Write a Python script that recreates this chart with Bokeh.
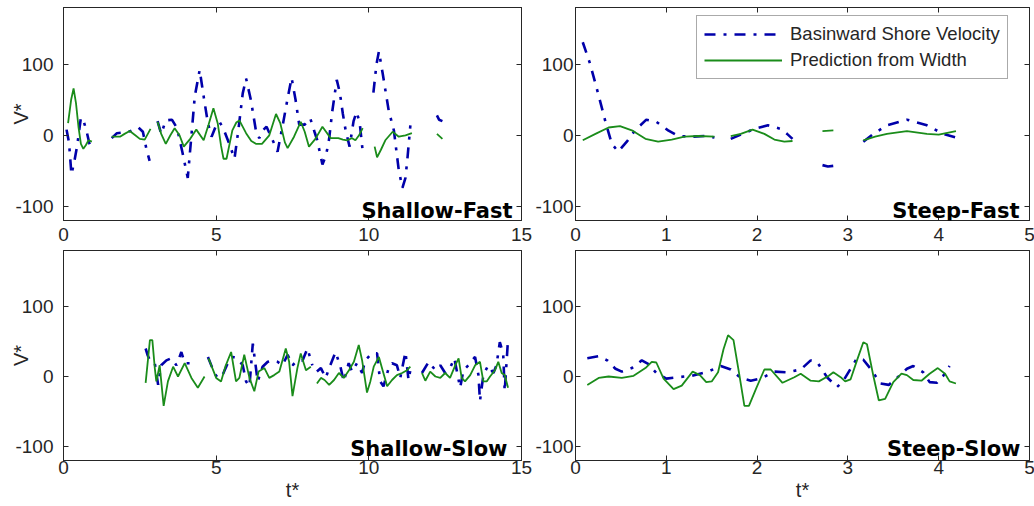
import math
from bokeh.plotting import figure
from bokeh.models import (Range1d, FixedTicker, LinearAxis, Label, Legend, LegendItem,
                          CustomJSTickFormatter)
from bokeh.layouts import row, column
from bokeh.embed import file_html
from bokeh.resources import INLINE

nan = float("nan")

# ---------------- data (NaN = gap in record) ----------------
# Shallow-Fast
sf_t_vel = [0.10, 0.18, 0.26, 0.35, 0.45, 0.57, 0.66, 0.76, 0.85, 0.93, nan,
            1.58, 1.75, 1.95, 2.20, 2.45, 2.60, 2.72, 2.82, nan,
            3.08, 3.20, 3.35, 3.55, 3.72, 3.90, 4.07, 4.20, 4.30, 4.46, 4.60, 4.73, 4.85, 4.98,
            5.11, 5.25, 5.43, 5.60, 5.72, 5.87, 5.98, 6.14, 6.30, 6.41, 6.55, 6.65, 6.85, 7.01,
            7.17, 7.34, 7.47, 7.60, 7.72, 7.90, 8.08, 8.22, 8.31, 8.48, 8.60, 8.70, 8.80, 8.95,
            9.05, 9.15, 9.24, 9.37, 9.50, 9.60, 9.70, 9.80, 9.85, nan,
            10.15, 10.25, 10.33, 10.45, 10.65, 10.82, 10.98, 11.10, 11.20, 11.27, 11.36, nan,
            12.23, 12.30, 12.41]
sf_v_vel = [8, -10, -55, -38, -14, 25, 20, 5, -12, -21, nan,
            -4, 3, 4, 6, 11, 5, -20, -36, nan,
            20, 2, 21, 22, 10, -25, -60, 5, 55, 92, 52, 17, -2, 12,
            19, 8, -12, -33, 5, 59, 80, 49, 7, -4, 8, 12, -7, -23,
            12, 52, 81, 50, 15, 15, 24, 5, -7, -41, -28, -5, 33, 78,
            60, 30, 7, -16, 20, 33, 18, -23, -28, nan,
            60, 100, 118, 88, 35, 7, -49, -74, -60, -30, 14, nan,
            28, 22, 20]
sf_t_pred = [0.15, 0.25, 0.33, 0.41, 0.49, 0.57, 0.65, 0.73, 0.82, 0.93, nan,
             1.58, 1.85, 2.00, 2.17, 2.35, 2.50, 2.66, 2.85, nan,
             3.08, 3.20, 3.35, 3.50, 3.64, 3.80, 3.94, 4.15, 4.35, 4.59, 4.75, 4.91, 5.05, 5.16,
             5.24, 5.34, 5.53, 5.66, 5.76, 5.98, 6.15, 6.30, 6.50, 6.74, 6.96, 7.10, 7.25, 7.34,
             7.55, 7.77, 7.90, 8.04, 8.25, 8.48, 8.75, 9.00, 9.15, 9.29, 9.45, 9.56, 9.68, 9.80, nan,
             10.19, 10.27, 10.40, 10.54, 10.78, 10.98, 11.20, 11.41, nan,
             12.23, 12.41]
sf_v_pred = [17, 50, 66, 45, 12, -12, -19, -14, -7, -9, nan,
             -2, -2, 2, 6, 0, -5, -6, 9, nan,
             19, 2, -12, 0, 10, 0, -16, -5, 8, -7, 15, 38, 17, -15,
             -33, -33, 7, 18, 21, 3, -8, -12, -12, 0, 30, 17, -10, -18,
             -2, 19, 5, -16, -5, 12, -4, -4, -6, -7, -4, -7, 0, 10, nan,
             -16, -31, -20, -7, 5, -2, 0, 3, nan,
             2, -5]

# Steep-Fast
stf_t_vel = [0.08, 0.16, 0.255, 0.33, 0.40, 0.47, 0.565, 0.656, 0.78, 0.89, 1.02, 1.13, 1.28, 1.42, 1.53, nan,
             1.71, 1.82, 1.97, 2.12, 2.26, 2.33, 2.39, nan,
             2.72, 2.78, 2.84, nan,
             3.17, 3.28, 3.43, 3.65, 3.87, 4.05, 4.19]
stf_v_vel = [131, 101, 56, 19, -12, -23, -9, 7, 22, 19, 7, -1, -2, -1, -3, nan,
             -5, 1, 9, 14, 9, 2, -5, nan,
             -42, -44, -43, nan,
             -9, 2, 14, 22, 14, 2, -3]
stf_t_pred = [0.08, 0.22, 0.365, 0.49, 0.62, 0.77, 0.91, 1.06, 1.20, 1.35, 1.53, nan,
              1.71, 1.82, 1.95, 2.08, 2.19, 2.30, 2.39, nan,
              2.72, 2.84, nan,
              3.17, 3.30, 3.43, 3.65, 3.87, 4.00, 4.19]
stf_v_pred = [-7, 2, 11, 13, 7, -5, -9, -6, -2, -1, -2, nan,
              -1, 2, 8, 2, -6, -9, -8, nan,
              6, 7, nan,
              -7, -2, 2, 6, 2, 1, 6]

# Shallow-Slow
ss_t_vel = [2.69, 2.76, 2.83, 2.99, 3.10, 3.20, 3.37, 3.53, 3.70, 3.86, 3.97, 4.13, 4.30, nan,
            4.73, 4.94, 5.05, 5.21, 5.38, 5.54, 5.70, 5.87, 5.98, 6.09, 6.20, 6.36, 6.52, 6.69,
            6.85, 7.01, 7.17, 7.34, 7.50, 7.66, 7.83, 7.99, 8.15, nan,
            8.30, 8.43, 8.59, 8.70, 8.91, 9.07, 9.18, 9.34, 9.45, 9.61, 9.78, 9.88, 10.10, 10.27,
            10.37, 10.48, 10.65, 10.76, 10.92, 11.03, 11.20, 11.30, 11.36, nan,
            11.74, 11.96, 12.18, 12.34, 12.50, 12.66, 12.80, 12.99, 13.10, 13.26, 13.48, 13.59,
            13.64, 13.75, 13.91, 14.08, 14.18, 14.29, 14.40, 14.45, 14.56]
ss_v_vel = [40, 30, 23, 19, -12, 16, 23, 26, 16, 35, 19, 19, 23, nan,
            28, 5, -2, 2, 19, 28, 26, 16, -7, -14, 47, -7, 14, 21,
            23, 21, 16, 31, 16, 23, 23, 40, 16, nan,
            7, 12, -2, 12, 35, 14, -7, 19, 7, 19, 5, 23, 33, 33,
            -7, -14, 12, 19, 16, -2, 35, -5, 9, nan,
            5, 21, 9, 16, 5, 12, 26, -16, 9, 16, 28, 2,
            -35, 2, 16, 5, 16, 49, 33, -21, 54]
ss_t_pred = [2.69, 2.83, 2.91, 2.99, 3.04, 3.15, 3.28, 3.42, 3.59, 3.75, 3.97, 4.19, 4.40, 4.62, nan,
             4.75, 5.00, 5.16, 5.30, 5.49, 5.65, 5.76, 5.92, 6.09, 6.25, 6.39, 6.58, 6.74, 6.90,
             7.07, 7.28, 7.39, 7.50, 7.66, 7.77, 7.94, 8.10, nan,
             8.30, 8.43, 8.55, 8.70, 8.86, 9.02, 9.18, 9.35, 9.51, 9.67, 9.78, 9.94, 10.05, 10.16,
             10.33, 10.43, 10.60, 10.76, 10.92, 11.09, 11.25, 11.36, nan,
             11.74, 11.85, 12.01, 12.18, 12.34, 12.50, 12.66, 12.83, 12.94, 13.04, 13.15, 13.32,
             13.48, 13.64, 13.75, 13.86, 13.97, 14.13, 14.24, 14.35, 14.45, 14.56]
ss_v_pred = [-9, 52, 52, 12, -7, 16, -42, -7, 14, 0, 19, -2, -16, 0, nan,
             26, -2, -7, 14, 35, -7, -2, 31, -2, -21, 7, 12, -2, 2,
             7, 40, 21, -28, 12, 33, 9, 14, nan,
             -10, -2, -5, -12, -5, 5, -2, 9, 21, 45, 23, -23, -7, 14,
             28, 12, -14, -5, 2, 5, 9, 14, nan,
             5, -6, 7, 0, -2, 5, -2, 16, 26, -2, -7, 2,
             16, 21, -7, -7, 0, 9, 21, 5, 2, -16]

# Steep-Slow
sts_t_vel = [0.13, 0.255, 0.35, 0.44, 0.51, 0.62, 0.73, 0.80, 0.89, 1.00, 1.13, 1.28, 1.46, 1.60,
             1.71, 1.82, 1.93, 2.04, 2.19, 2.33, 2.48, 2.59, 2.66, 2.77, 2.88, 2.94, 3.03, 3.10,
             3.17, 3.25, 3.36, 3.45, 3.54, 3.65, 3.72, 3.83, 3.90, 3.98, 4.05, 4.12]
sts_v_vel = [26, 29, 23, 11, 7, 12, 23, 18, 5, -3, -1, 1, 7, 15,
             10, -2, -6, -3, 7, 6, 10, 23, 21, -1, -15, -8, 11, 26,
             24, 11, -10, -12, -2, 11, 15, 6, -8, -9, 1, 15]
sts_t_pred = [0.13, 0.255, 0.365, 0.51, 0.64, 0.77, 0.84, 0.89, 0.97, 1.08, 1.17, 1.29, 1.37, 1.44,
              1.50, 1.57, 1.63, 1.68, 1.74, 1.80, 1.86, 1.91, 1.99, 2.08, 2.15, 2.28, 2.41, 2.48,
              2.59, 2.68, 2.79, 2.84, 2.92, 2.97, 3.03, 3.10, 3.17, 3.21, 3.28, 3.34, 3.41, 3.50,
              3.59, 3.65, 3.72, 3.81, 3.90, 3.99, 4.07, 4.12, 4.19]
sts_v_pred = [-12, -2, 0, -2, 1, 12, 21, 20, -3, -18, -13, 7, 2, -8,
              -7, 6, 39, 59, 52, 6, -42, -42, -17, 10, 10, -9, -1, 4,
              -6, -7, 1, 6, -1, -7, -4, 23, 49, 46, 1, -34, -32, -8,
              4, 2, -5, -6, 4, 12, 4, -7, -10]

panel_names = ["Shallow-Fast", "Steep-Fast", "Shallow-Slow", "Steep-Slow"]
legend_labels = ["Basinward Shore Velocity", "Prediction from Width"]
x_ticks_long = [0, 5, 10, 15]
x_ticks_short = [0, 1, 2, 3, 4, 5]
y_ticks = [-100, 0, 100]

# ---------------- styling ----------------
BLUE = "#0000aa"
GREEN = "#1a8c1a"
AX = "#262626"
TICK_FONT = "Liberation Sans"
INT_FMT = CustomJSTickFormatter(code="return tick.toFixed(0);")


def style_axis(ax, ticks, show_labels, standoff):
    ax.ticker = FixedTicker(ticks=ticks)
    ax.major_tick_in = 5
    ax.major_tick_out = 0
    ax.minor_tick_line_color = None
    ax.axis_line_color = AX
    ax.major_tick_line_color = AX
    ax.major_label_text_font = TICK_FONT
    ax.formatter = INT_FMT
    if show_labels:
        ax.major_label_text_font_size = "19px"
        ax.major_label_text_color = AX
        ax.major_label_standoff = standoff
    else:
        ax.major_label_text_font_size = "1px"
        ax.major_label_text_color = None
        ax.major_label_standoff = 0


def make_panel(xmax, xticks, fw, fh, bl, br, bt, bb, xstand, ystand, name, name_dx, name_dy,
               vt, vv, pt, pv, ylabel, xlabel, legend=False):
    p = figure(frame_width=fw, frame_height=fh,
               x_range=Range1d(0, xmax), y_range=Range1d(-120, 180),
               output_backend="svg", toolbar_location=None,
               min_border_left=bl, min_border_right=br, min_border_top=bt,
               min_border_bottom=bb)
    p.xgrid.visible = False
    p.ygrid.visible = False
    p.outline_line_color = AX
    p.background_fill_color = "white"
    p.border_fill_color = "white"
    bottom_ax = p.below[0]
    left_ax = p.left[0]
    style_axis(bottom_ax, xticks, True, xstand)
    style_axis(left_ax, y_ticks, True, ystand)
    top = LinearAxis()
    style_axis(top, xticks, False, 0)
    p.add_layout(top, "above")
    right = LinearAxis()
    style_axis(right, y_ticks, False, 0)
    p.add_layout(right, "right")

    if ylabel:
        left_ax.axis_label = "V*"
        left_ax.axis_label_text_font = TICK_FONT
        left_ax.axis_label_text_font_size = "20px"
        left_ax.axis_label_text_font_style = "normal"
        left_ax.axis_label_text_color = AX
        left_ax.axis_label_standoff = -20
    if xlabel:
        bottom_ax.axis_label = "t*"
        bottom_ax.axis_label_text_font = TICK_FONT
        bottom_ax.axis_label_text_font_size = "20px"
        bottom_ax.axis_label_text_font_style = "normal"
        bottom_ax.axis_label_text_color = AX
        bottom_ax.axis_label_standoff = 2

    r1 = p.line(vt, vv, line_color=BLUE, line_width=2.6, line_dash="11 8 3 8")
    r2 = p.line(pt, pv, line_color=GREEN, line_width=1.8)

    p.add_layout(Label(x=fw - name_dx, y=name_dy, x_units="screen", y_units="screen",
                       text=name, text_font="DejaVu Sans", text_font_style="bold",
                       text_font_size="21px", text_align="right",
                       text_baseline="alphabetic", text_color="black"))
    if legend:
        lg = Legend(items=[LegendItem(label=legend_labels[0], renderers=[r1]),
                           LegendItem(label=legend_labels[1], renderers=[r2])],
                    location=(121, 141), padding=7, spacing=4,
                    glyph_width=78, glyph_height=20, label_height=20,
                    label_standoff=8, label_text_font=TICK_FONT,
                    label_text_font_size="18.5px", label_text_color=AX,
                    border_line_color="#555555", border_line_width=1,
                    background_fill_color="white", background_fill_alpha=1.0)
        p.add_layout(lg)
    return p


p_sf = make_panel(15, x_ticks_long, 458, 213, 63, 11, 7, 29, 7, 10, panel_names[0], 9, 10,
                  sf_t_vel, sf_v_vel, sf_t_pred, sf_v_pred, True, False)
p_stf = make_panel(5, x_ticks_short, 454, 213, 40, 8, 7, 29, 7, 2, panel_names[1], 10, 10,
                   stf_t_vel, stf_v_vel, stf_t_pred, stf_v_pred, False, False, legend=True)
p_ss = make_panel(15, x_ticks_long, 458, 210, 63, 11, 1, 46, 0, 10, panel_names[2], 14, 12,
                  ss_t_vel, ss_v_vel, ss_t_pred, ss_v_pred, True, True)
p_sts = make_panel(5, x_ticks_short, 454, 210, 40, 8, 1, 46, 0, 2, panel_names[3], 9, 12,
                   sts_t_vel, sts_v_vel, sts_t_pred, sts_v_pred, False, True)

layout = column(row(p_sf, p_stf), row(p_ss, p_sts))

open("out.html", "w").write(file_html(layout, INLINE))
